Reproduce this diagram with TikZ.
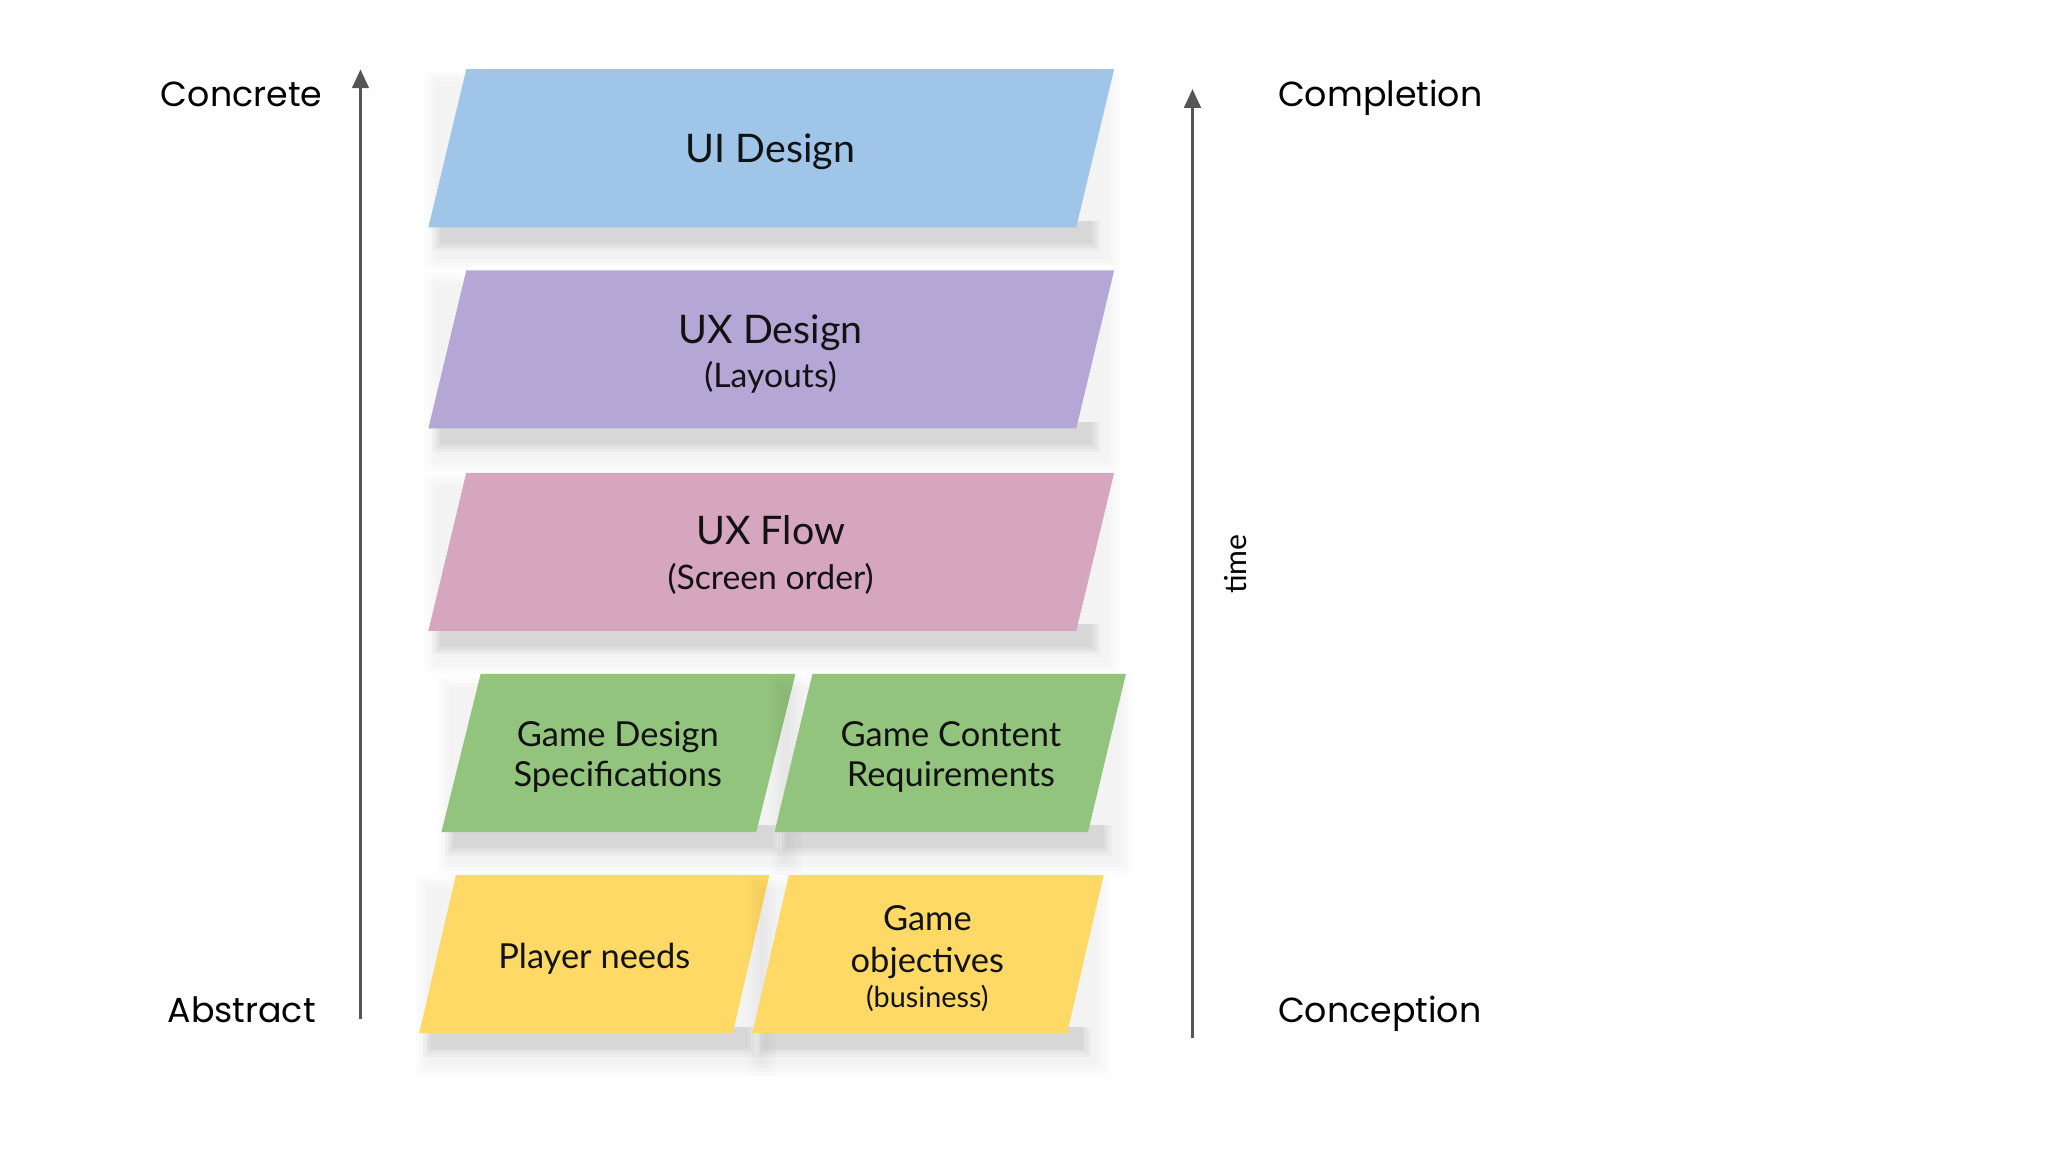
\documentclass[tikz,border=0pt]{standalone}
\usepackage{fontspec}
\setmainfont{Lato}
\newfontfamily\sidefont{Poppins}
\usetikzlibrary{arrows.meta}
\definecolor{cblue}{HTML}{9FC5E8}
\definecolor{cpurple}{HTML}{B4A7D6}
\definecolor{cpink}{HTML}{D5A6BD}
\definecolor{cgreen}{HTML}{93C47D}
\definecolor{cyellow}{HTML}{FFD966}
\definecolor{arrowgrey}{HTML}{555555}
\tikzset{
  axis/.style={draw=arrowgrey, line width=1.1pt, -{Triangle[width=4.6pt,length=5.4pt]}},
  sidelabel/.style={font=\sidefont\fontsize{9.9}{12}\selectfont, inner sep=0pt},
  boxtext/.style={align=center, inner sep=0pt, text=black!93},
  big/.style={font=\fontsize{11.2}{13}\selectfont},
  mid/.style={font=\fontsize{9.8}{11.6}\selectfont},
}
% shadow: bottom-left x, top y, width, skew
\newcommand\cardshadow[4]{%
  \foreach \k in {0,...,3}{%
    \fill[black, opacity=0.012] (#1+6-\k*3, #2+10-\k*3) rectangle (#1+#3+#4-4+\k*3, #2+121+24+\k*3);}%
  \foreach \k in {0,...,3}{%
    \fill[black, opacity=0.026] (#1+9-\k*2, #2+116) rectangle (#1+#3+12+\k*2, #2+121+12+\k*2);}%
}
% parallelogram: bottom-left x, top y, width, skew, colour
\newcommand\para[5]{%
  \cardshadow{#1}{#2}{#3}{#4}%
  \fill[#5] (#1+#4,#2) -- (#1+#4+#3,#2) -- (#1+#3,#2+121) -- (#1,#2+121) -- cycle;%
}
\begin{document}
\begin{tikzpicture}[x=0.01306cm, y=-0.01306cm]
\useasboundingbox (0,0) rectangle (1568,882);
\fill[white] (0,0) rectangle (1568,882);

% shapes
\para{328}{53}{496}{29}{cblue}
\para{328}{207}{496}{29}{cpurple}
\para{328}{362}{496}{29}{cpink}
\para{338}{516}{241}{30}{cgreen}
\para{593}{516}{240}{29}{cgreen}
\para{321}{670}{240}{28}{cyellow}
\para{576}{670}{241}{28}{cyellow}

% texts
\node[boxtext, big] (ui) at (590,116) {UI Design};
\node[boxtext] (uxd) at (590,271) {{\fontsize{11.2}{13}\selectfont UX Design}\\[0.6pt]{\fontsize{9.6}{11}\selectfont (Layouts)}};
\node[boxtext] (uxf) at (590,425) {{\fontsize{11.2}{13}\selectfont UX Flow}\\[0.6pt]{\fontsize{9.6}{11}\selectfont (Screen order)}};
\node[boxtext, mid] (gds) at (473,579.5) {Game Design\\Specifications};
\node[boxtext, mid] (gcr) at (728,579.5) {Game Content\\Requirements};
\node[boxtext, mid] (pn) at (455,734) {Player needs};
\node[boxtext] (go) at (710,734) {{\fontsize{9.8}{11.6}\selectfont Game}\\{\fontsize{9.8}{11.6}\selectfont objectives}\\[-2.2pt]{\fontsize{8.2}{10}\selectfont (business)}};

% left axis
\coordinate (absB) at (276,780);
\coordinate (absT) at (276,53);
\draw[axis] (absB) -- (absT);
\node[sidelabel] (concrete) at (185,72) {Concrete};
\node[sidelabel] (abstract) at (185,773) {Abstract};

% right axis
\coordinate (timeB) at (913,795);
\coordinate (timeT) at (913,68);
\draw[axis] (timeB) -- (timeT);
\node[sidelabel, anchor=west] (completion) at (978,75) {Completion};
\node[sidelabel, anchor=west] (conception) at (978,776) {Conception};
\node[rotate=90, inner sep=0pt, font=\fontsize{8.6}{10}\selectfont] (time) at (946,432) {time};
\end{tikzpicture}
\end{document}
